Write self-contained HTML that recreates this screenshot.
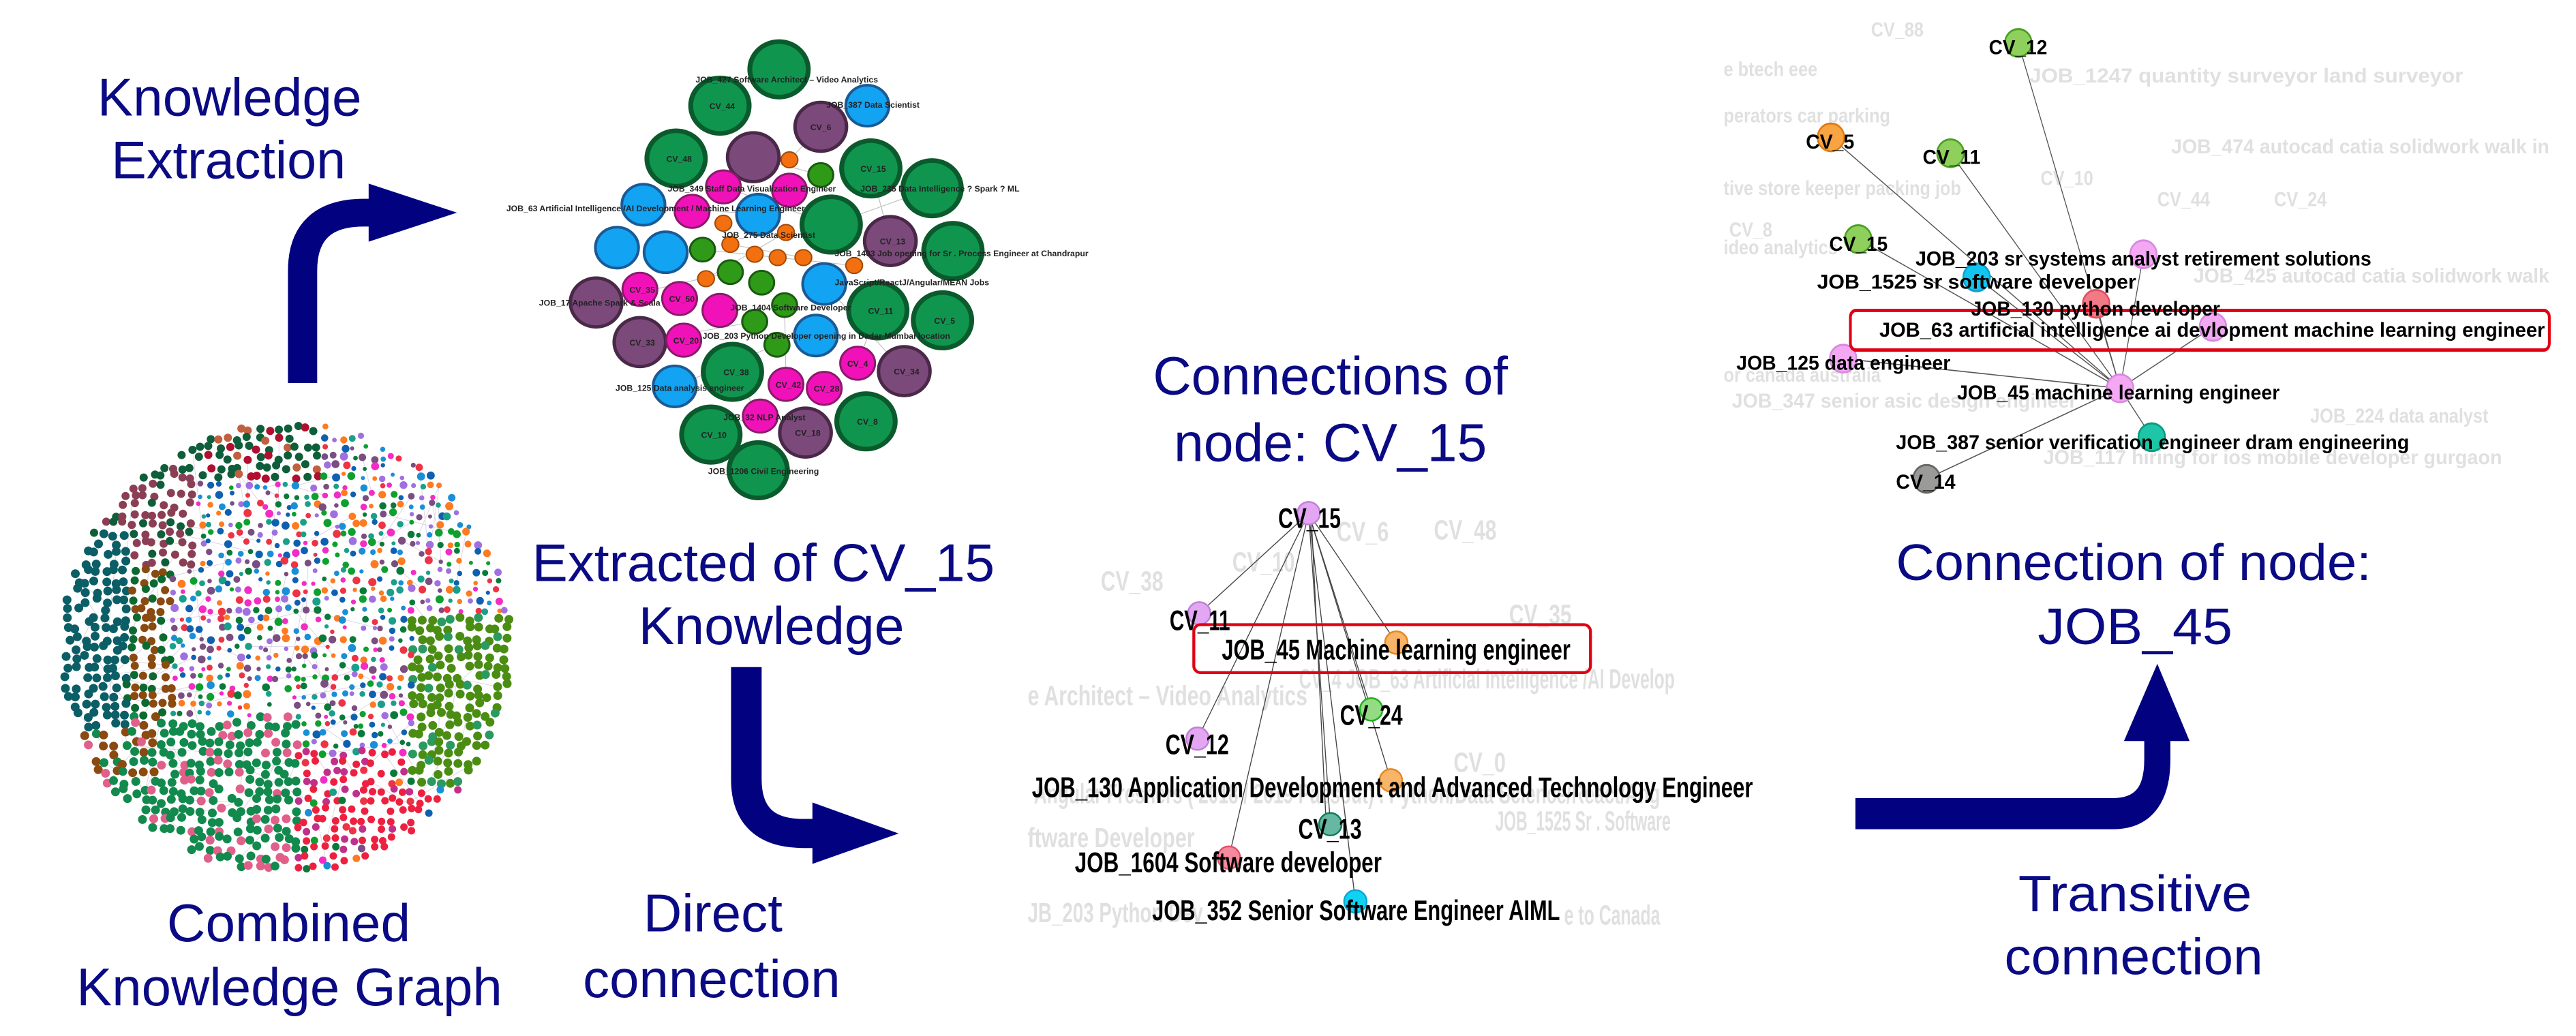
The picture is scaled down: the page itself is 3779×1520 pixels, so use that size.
<!DOCTYPE html>
<html><head><meta charset="utf-8"><style>
html,body{margin:0;padding:0;background:#fff;}
svg{display:block;}
.t{font-family:"Liberation Sans",Arial,sans-serif;fill:#0a0a84;}
.b{font-family:"Liberation Sans",Arial,sans-serif;font-weight:bold;fill:#000;}
.f{font-family:"Liberation Sans",Arial,sans-serif;font-weight:bold;fill:#c8c8c8;opacity:.55;}
.s{font-family:"Liberation Sans",Arial,sans-serif;font-weight:bold;fill:#222;font-size:12px;}
</style></head><body>
<svg id="root" width="3779" height="1520" viewBox="0 0 3779 1520" xmlns="http://www.w3.org/2000/svg">
<rect width="3779" height="1520" fill="#fff"/>

<!-- combined graph (original coords) -->
<g id="blob"></g>

<!-- LEFT group in zoom1 coords -->
<g transform="scale(1.0204,0.969)">
  <text class="t" x="140" y="175" font-size="80" textLength="380" lengthAdjust="spacingAndGlyphs">Knowledge</text>
  <text class="t" x="160" y="270" font-size="80" textLength="337" lengthAdjust="spacingAndGlyphs">Extraction</text>
  <text class="t" x="765" y="880" font-size="80" textLength="665" lengthAdjust="spacingAndGlyphs">Extracted of CV_15</text>
  <text class="t" x="918" y="975" font-size="80" textLength="382" lengthAdjust="spacingAndGlyphs">Knowledge</text>
  <text class="t" x="240" y="1425" font-size="80" textLength="350" lengthAdjust="spacingAndGlyphs">Combined</text>
  <text class="t" x="110" y="1522" font-size="80" textLength="612" lengthAdjust="spacingAndGlyphs">Knowledge Graph</text>
  <text class="t" x="925" y="1410" font-size="80" textLength="200" lengthAdjust="spacingAndGlyphs">Direct</text>
  <text class="t" x="838" y="1510" font-size="80" textLength="370" lengthAdjust="spacingAndGlyphs">connection</text>

  <!-- arrow 1 -->
  <path d="M435,580 L435,410 Q435,322 523,322 L540,322" fill="none" stroke="#020280" stroke-width="42"/>
  <polygon points="530,278 657,322 530,366" fill="#020280"/>
  <!-- arrow 2 -->
  <path d="M1073,1010 L1073,1180 Q1073,1262 1155,1262 L1175,1262" fill="none" stroke="#020280" stroke-width="44"/>
  <polygon points="1168,1215 1292,1262 1168,1308" fill="#020280"/>

  <!-- cluster edges -->
  <g stroke="#999" stroke-width="1.2" opacity=".6">
    <line x1="1083" y1="238" x2="1180" y2="265"/><line x1="1040" y1="283" x2="1195" y2="340"/>
    <line x1="925" y1="310" x2="1090" y2="325"/><line x1="1180" y1="192" x2="1135" y2="242"/>
    <line x1="1252" y1="255" x2="1280" y2="365"/><line x1="857" y1="458" x2="1050" y2="412"/>
    <line x1="920" y1="518" x2="1085" y2="487"/><line x1="970" y1="585" x2="1117" y2="522"/>
    <line x1="1300" y1="562" x2="1185" y2="430"/><line x1="1233" y1="550" x2="1262" y2="470"/>
    <line x1="1130" y1="582" x2="1128" y2="462"/><line x1="1010" y1="378" x2="1228" y2="402"/>
    <line x1="1050" y1="370" x2="1155" y2="390"/><line x1="1015" y1="422" x2="1130" y2="352"/>
    <line x1="1340" y1="285" x2="1195" y2="340"/><line x1="1093" y1="630" x2="1053" y2="563"/>
  </g>
  <!-- big green -->
  <g fill="#10954f" stroke="#0a5a2c" stroke-width="7">
    <circle cx="1120" cy="105" r="42"/><circle cx="1035" cy="160" r="42"/><circle cx="972" cy="240" r="42"/>
    <circle cx="1252" cy="255" r="42"/><circle cx="1340" cy="285" r="42"/><circle cx="1195" cy="340" r="42"/>
    <circle cx="1370" cy="380" r="42"/><circle cx="1262" cy="470" r="42"/><circle cx="1355" cy="485" r="42"/>
    <circle cx="1053" cy="563" r="42"/><circle cx="1245" cy="638" r="42"/><circle cx="1022" cy="658" r="42"/>
    <circle cx="1090" cy="712" r="42"/>
  </g>
  <g fill="#7b4a7b" stroke="#4a2848" stroke-width="5">
    <circle cx="1180" cy="192" r="37"/><circle cx="1083" cy="238" r="37"/><circle cx="1280" cy="365" r="37"/>
    <circle cx="857" cy="458" r="37"/><circle cx="920" cy="518" r="37"/><circle cx="1300" cy="562" r="37"/>
    <circle cx="1158" cy="655" r="37"/>
  </g>
  <g fill="#12a3f2" stroke="#1a5a96" stroke-width="4">
    <circle cx="1247" cy="160" r="31"/><circle cx="925" cy="310" r="31"/><circle cx="1090" cy="325" r="31"/>
    <circle cx="887" cy="375" r="31"/><circle cx="957" cy="382" r="31"/><circle cx="1185" cy="430" r="31"/>
    <circle cx="1173" cy="508" r="31"/><circle cx="970" cy="585" r="31"/>
  </g>
  <g fill="#f012b8" stroke="#8a1a6a" stroke-width="3">
    <circle cx="1040" cy="283" r="25"/><circle cx="995" cy="320" r="25"/><circle cx="1135" cy="288" r="25"/>
    <circle cx="920" cy="438" r="25"/><circle cx="977" cy="452" r="25"/><circle cx="1035" cy="470" r="25"/>
    <circle cx="983" cy="515" r="25"/><circle cx="1233" cy="550" r="25"/><circle cx="1130" cy="582" r="25"/>
    <circle cx="1185" cy="588" r="25"/><circle cx="1093" cy="630" r="25"/>
  </g>
  <g fill="#2e9a18" stroke="#1a5a10" stroke-width="3">
    <circle cx="1180" cy="265" r="18"/><circle cx="1010" cy="378" r="18"/><circle cx="1050" cy="412" r="18"/>
    <circle cx="1095" cy="428" r="18"/><circle cx="1128" cy="462" r="18"/><circle cx="1085" cy="487" r="18"/>
    <circle cx="1117" cy="522" r="18"/>
  </g>
  <g fill="#f27010" stroke="#a04a08" stroke-width="2">
    <circle cx="1135" cy="242" r="12"/><circle cx="1040" cy="338" r="12"/><circle cx="1130" cy="352" r="12"/>
    <circle cx="1050" cy="370" r="12"/><circle cx="1085" cy="385" r="12"/><circle cx="1118" cy="390" r="12"/>
    <circle cx="1155" cy="390" r="12"/><circle cx="1228" cy="402" r="12"/><circle cx="1015" cy="422" r="12"/>
  </g>
  <g class="s">
    <text x="1000" y="125">JOB_427 Software Architect – Video Analytics</text>
    <text x="1188" y="163">JOB_387 Data Scientist</text>
    <text x="728" y="320">JOB_63 Artificial Intelligence /AI Development / Machine Learning Engineer</text>
    <text x="1237" y="290">JOB_235 Data Intelligence ? Spark ? ML</text>
    <text x="1200" y="388">JOB_1403 Job opening for Sr . Process Engineer at Chandrapur</text>
    <text x="1200" y="432">JavaScript/ReactJ/Angular/MEAN Jobs</text>
    <text x="775" y="463">JOB_17 Apache Spark &amp; Scala</text>
    <text x="885" y="592">JOB_125 Data analysis engineer</text>
    <text x="1040" y="636">JOB_32 NLP Analyst</text>
    <text x="1018" y="718">JOB_1206 Civil Engineering</text>
    <text x="1010" y="513">JOB_203 Python Developer opening in Dadar Mumbai location</text>
    <text x="960" y="290">JOB_349 Staff Data Visualization Engineer</text>
    <text x="1050" y="470">JOB_1404 Software Developer</text>
    <text x="1038" y="360">JOB_275 Data Scientist</text>
    <text x="1020" y="165">CV_44</text><text x="958" y="245">CV_48</text><text x="1165" y="197">CV_6</text>
    <text x="1237" y="260">CV_15</text><text x="1265" y="370">CV_13</text><text x="1248" y="475">CV_11</text>
    <text x="1343" y="490">CV_5</text><text x="1040" y="568">CV_38</text><text x="1232" y="643">CV_8</text>
    <text x="1008" y="663">CV_10</text><text x="1143" y="660">CV_18</text><text x="905" y="523">CV_33</text>
    <text x="1285" y="567">CV_34</text><text x="905" y="443">CV_35</text><text x="962" y="457">CV_50</text>
    <text x="968" y="520">CV_20</text><text x="1218" y="555">CV_4</text><text x="1115" y="587">CV_42</text>
    <text x="1170" y="593">CV_28</text>
  </g>
</g>

<!-- MIDDLE group in zoom4 coords -->
<g transform="translate(1480,560) scale(0.6125)">
  <text class="t" x="345" y="30" font-size="128" textLength="850" lengthAdjust="spacingAndGlyphs">Connections of</text>
  <text class="t" x="395" y="190" font-size="128" textLength="750" lengthAdjust="spacingAndGlyphs">node: CV_15</text>
  <g class="f" font-size="66">
    <text x="785" y="382" textLength="125" lengthAdjust="spacingAndGlyphs">CV_6</text>
    <text x="1018" y="378" textLength="150" lengthAdjust="spacingAndGlyphs">CV_48</text>
    <text x="220" y="500" textLength="150" lengthAdjust="spacingAndGlyphs">CV_38</text>
    <text x="535" y="455" textLength="150" lengthAdjust="spacingAndGlyphs">CV_10</text>
    <text x="1198" y="580" textLength="150" lengthAdjust="spacingAndGlyphs">CV_35</text>
    <text x="45" y="775" textLength="670" lengthAdjust="spacingAndGlyphs">e Architect – Video Analytics</text>
    <text x="695" y="735" textLength="900" lengthAdjust="spacingAndGlyphs">CV_4 JOB_63 Artificial Intelligence /AI Develop</text>
    <text x="1065" y="935" textLength="125" lengthAdjust="spacingAndGlyphs">CV_0</text>
    <text x="1165" y="1075" textLength="420" lengthAdjust="spacingAndGlyphs">JOB_1525 Sr . Software</text>
    <text x="45" y="1115" textLength="400" lengthAdjust="spacingAndGlyphs">ftware Developer</text>
    <text x="45" y="1295" textLength="420" lengthAdjust="spacingAndGlyphs">JB_203 Python Dev</text>
    <text x="60" y="1010" textLength="1500" lengthAdjust="spacingAndGlyphs">Angular Freshers ( 2018 / 2019 Passout) . Python/Data Science/React/Ang</text>
    <text x="1330" y="1300" textLength="230" lengthAdjust="spacingAndGlyphs">e to Canada</text>
  </g>
  <g stroke="#444" stroke-width="2.2">
    <line x1="718" y1="315" x2="456" y2="555"/><line x1="718" y1="315" x2="452" y2="855"/>
    <line x1="718" y1="315" x2="527" y2="1140"/><line x1="718" y1="315" x2="770" y2="1060"/>
    <line x1="718" y1="315" x2="830" y2="1245"/><line x1="718" y1="315" x2="868" y2="785"/>
    <line x1="718" y1="315" x2="915" y2="955"/><line x1="718" y1="315" x2="928" y2="625"/>
    <line x1="724" y1="315" x2="760" y2="1060"/>
  </g>
  <g stroke-width="4">
    <circle cx="718" cy="315" r="27" fill="#e3a6f2" stroke="#c27ed8"/>
    <circle cx="456" cy="555" r="27" fill="#e3a6f2" stroke="#c27ed8"/>
    <circle cx="928" cy="625" r="27" fill="#f8b468" stroke="#e8861c"/>
    <circle cx="868" cy="785" r="27" fill="#94dc84" stroke="#1fae1f"/>
    <circle cx="452" cy="855" r="27" fill="#e3a6f2" stroke="#c27ed8"/>
    <circle cx="915" cy="955" r="27" fill="#f8b468" stroke="#e8861c"/>
    <circle cx="770" cy="1060" r="27" fill="#66b8a2" stroke="#0d7a5a"/>
    <circle cx="527" cy="1140" r="27" fill="#f48a9c" stroke="#e0506a"/>
    <circle cx="830" cy="1245" r="27" fill="#12d2f4" stroke="#08a8d0"/>
  </g>
  <rect x="443" y="582" width="950" height="115" rx="16" fill="none" stroke="#e00012" stroke-width="7"/>
  <g class="b" font-size="68">
    <text x="645" y="350" textLength="150" lengthAdjust="spacingAndGlyphs">CV_15</text>
    <text x="385" y="595" textLength="145" lengthAdjust="spacingAndGlyphs">CV_11</text>
    <text x="510" y="665" textLength="835" lengthAdjust="spacingAndGlyphs">JOB_45 Machine learning engineer</text>
    <text x="793" y="822" textLength="150" lengthAdjust="spacingAndGlyphs">CV_24</text>
    <text x="375" y="892" textLength="152" lengthAdjust="spacingAndGlyphs">CV_12</text>
    <text x="55" y="995" textLength="1727" lengthAdjust="spacingAndGlyphs">JOB_130 Application Development and Advanced Technology Engineer</text>
    <text x="693" y="1095" textLength="152" lengthAdjust="spacingAndGlyphs">CV_13</text>
    <text x="158" y="1175" textLength="735" lengthAdjust="spacingAndGlyphs">JOB_1604 Software  developer</text>
    <text x="343" y="1290" textLength="977" lengthAdjust="spacingAndGlyphs">JOB_352 Senior Software Engineer AIML</text>
  </g>
</g>

<!-- RIGHT group in zoom3 coords -->
<g transform="translate(2500,0) scale(0.8157,0.969)">
  <g class="f" font-size="31">
    <text x="300" y="55">CV_88</text>
    <text x="35" y="115">e btech eee</text>
    <text x="35" y="185">perators  car parking</text>
    <text x="35" y="295">tive store keeper packing job</text>
    <text x="45" y="358">CV_8</text>
    <text x="35" y="385">ideo analytics</text>
    <text x="585" y="125" textLength="780" lengthAdjust="spacingAndGlyphs">JOB_1247 quantity surveyor  land surveyor</text>
    <text x="840" y="232" textLength="680" lengthAdjust="spacingAndGlyphs">JOB_474 autocad catia  solidwork walk in</text>
    <text x="605" y="280">CV_10</text>
    <text x="815" y="312">CV_44</text>
    <text x="1025" y="312">CV_24</text>
    <text x="880" y="428" textLength="640" lengthAdjust="spacingAndGlyphs">JOB_425 autocad catia  solidwork walk</text>
    <text x="35" y="578">or canada    australia</text>
    <text x="50" y="617" textLength="620" lengthAdjust="spacingAndGlyphs">JOB_347 senior asic design engineer</text>
    <text x="1090" y="640">JOB_224 data analyst</text>
    <text x="610" y="703" textLength="825" lengthAdjust="spacingAndGlyphs">JOB_117 hiring for ios mobile developer  gurgaon</text>
  </g>
  <g stroke="#555" stroke-width="1.6">
    <line x1="748" y1="588" x2="565" y2="65"/><line x1="748" y1="588" x2="228" y2="208"/>
    <line x1="748" y1="588" x2="443" y2="232"/><line x1="748" y1="588" x2="277" y2="362"/>
    <line x1="748" y1="588" x2="790" y2="385"/><line x1="748" y1="588" x2="490" y2="420"/>
    <line x1="748" y1="588" x2="705" y2="460"/><line x1="748" y1="588" x2="915" y2="495"/>
    <line x1="748" y1="588" x2="250" y2="543"/><line x1="748" y1="588" x2="805" y2="662"/>
    <line x1="748" y1="588" x2="400" y2="725"/>
  </g>
  <g stroke-width="3">
    <ellipse cx="565" cy="65" rx="24" ry="21" fill="#8fd05c" stroke="#48a020"/>
    <ellipse cx="228" cy="208" rx="24" ry="21" fill="#f8a442" stroke="#e07a10"/>
    <ellipse cx="443" cy="232" rx="24" ry="21" fill="#8fd05c" stroke="#48a020"/>
    <ellipse cx="277" cy="362" rx="24" ry="21" fill="#8fd05c" stroke="#48a020"/>
    <ellipse cx="790" cy="385" rx="24" ry="21" fill="#f4a8f4" stroke="#d888e0"/>
    <ellipse cx="490" cy="420" rx="24" ry="21" fill="#12c4f0" stroke="#0aa0d0"/>
    <ellipse cx="705" cy="460" rx="24" ry="21" fill="#f27a86" stroke="#e05060"/>
    <ellipse cx="915" cy="495" rx="24" ry="21" fill="#f4a8f4" stroke="#d888e0"/>
    <ellipse cx="250" cy="543" rx="24" ry="21" fill="#f4a8f4" stroke="#d888e0"/>
    <ellipse cx="748" cy="588" rx="24" ry="21" fill="#f4a8f4" stroke="#d888e0"/>
    <ellipse cx="805" cy="662" rx="24" ry="21" fill="#1cc6a6" stroke="#0a9a80"/>
    <ellipse cx="400" cy="725" rx="24" ry="21" fill="#9a9a98" stroke="#666"/>
  </g>
  <rect x="263" y="470" width="1257" height="60" rx="10" fill="none" stroke="#e00012" stroke-width="5"/>
  <g class="b" font-size="31">
    <text x="512" y="82" textLength="105" lengthAdjust="spacingAndGlyphs">CV_12</text>
    <text x="183" y="225" textLength="87" lengthAdjust="spacingAndGlyphs">CV_5</text>
    <text x="393" y="248" textLength="104" lengthAdjust="spacingAndGlyphs">CV_11</text>
    <text x="225" y="380" textLength="105" lengthAdjust="spacingAndGlyphs">CV_15</text>
    <text x="380" y="402" textLength="820" lengthAdjust="spacingAndGlyphs">JOB_203 sr  systems analyst retirement solutions</text>
    <text x="203" y="437" textLength="574" lengthAdjust="spacingAndGlyphs">JOB_1525 sr    software  developer</text>
    <text x="480" y="478" textLength="448" lengthAdjust="spacingAndGlyphs">JOB_130 python developer</text>
    <text x="315" y="510" textLength="1197" lengthAdjust="spacingAndGlyphs">JOB_63 artificial intelligence  ai devlopment   machine learning engineer</text>
    <text x="58" y="560" textLength="385" lengthAdjust="spacingAndGlyphs">JOB_125 data engineer</text>
    <text x="455" y="605" textLength="580" lengthAdjust="spacingAndGlyphs">JOB_45 machine learning engineer</text>
    <text x="345" y="680" textLength="923" lengthAdjust="spacingAndGlyphs">JOB_387 senior verification engineer  dram engineering</text>
    <text x="345" y="740" textLength="107" lengthAdjust="spacingAndGlyphs">CV_14</text>
  </g>
  <text class="t" x="345" y="878" font-size="78" textLength="855" lengthAdjust="spacingAndGlyphs">Connection of node:</text>
  <text class="t" x="600" y="975" font-size="78" textLength="350" lengthAdjust="spacingAndGlyphs">JOB_45</text>
  <text class="t" x="565" y="1380" font-size="78" textLength="420" lengthAdjust="spacingAndGlyphs">Transitive</text>
  <text class="t" x="540" y="1475" font-size="78" textLength="465" lengthAdjust="spacingAndGlyphs">connection</text>
  <path d="M272,1232 L735,1232 Q815,1232 815,1150 L815,1110" fill="none" stroke="#020280" stroke-width="47"/>
  <polygon points="755,1122 873,1122 815,1005" fill="#020280"/>
</g>
</svg>
<script>
(function(){
  var ns="http://www.w3.org/2000/svg",g=document.getElementById("blob");
  var s=12345;function r(){s=(s*16807)%2147483647;return s/2147483647;}
  var cx=420,cy=950,R=335,pts=[];
  for(var y=cy-R;y<=cy+R;y+=14){for(var x=cx-R;x<=cx+R;x+=14){
    var px=x+(r()-.5)*8,py=y+(r()-.5)*8,dx=(px-cx)/R,dy=(py-cy)/R;
    if(dx*dx+dy*dy>0.97)continue; if(r()<0.12)continue;
    pts.push([px,py,dx,dy]);}}
  var pal=['#1a8fd6','#0ea02e','#f22cc4','#a070e0','#1aa08a','#ee3344','#7a4e80','#1060b0','#ff7a20','#0a7a3a'];
  var eg=document.createElementNS(ns,"g");eg.setAttribute("stroke","#b4a4c8");eg.setAttribute("stroke-width","1");eg.setAttribute("opacity","0.45");g.appendChild(eg);
  for(var i=0;i<900;i++){var a=pts[Math.floor(r()*pts.length)],b=pts[Math.floor(r()*pts.length)];
    if(Math.abs(a[0]-b[0])+Math.abs(a[1]-b[1])>160)continue;
    var l=document.createElementNS(ns,"line");l.setAttribute("x1",a[0]);l.setAttribute("y1",a[1]);l.setAttribute("x2",b[0]);l.setAttribute("y2",b[1]);eg.appendChild(l);}
  pts.forEach(function(p){
    var dx=p[2],dy=p[3],c,rad;
    if(dx<-0.7&&dy>-0.5&&dy<0.35){c='#0b5e66';rad=6.5;}
    else if(dx<-0.4&&dy<-0.35&&dy>-0.8&&dx>-0.85){c=r()<.7?'#8b3f55':'#0e5e3a';rad=6;}
    else if(dy<-0.72&&dx<0.15){c=r()<.6?'#0e5e3a':(r()<.5?'#b01030':'#c06040');rad=6;}
    else if(dy>0.3&&dx<0.05){c=r()<.8?'#128a4e':'#e0608a';rad=6.5;if(dx<-0.55&&dy<0.55&&r()<.4)c='#8a4a10';}
    else if(dx>0.55&&dy>-0.15&&dy<0.62){c=r()<.8?'#4b8d12':'#2a9a60';rad=6.5;}
    else if(dx>0.0&&dy>0.45){var q=r();c=q<.55?'#ee2040':(q<.75?'#c0308a':pal[Math.floor(r()*pal.length)]);rad=5.5;}
    else if(dx<-0.5&&dy>-0.35&&dy<0.3){c=r()<.5?'#0b6a30':'#8a4a10';rad=6;}
    else {c=pal[Math.floor(r()*pal.length)];rad=3+r()*3;}
    var e=document.createElementNS(ns,"circle");e.setAttribute("cx",p[0].toFixed(1));e.setAttribute("cy",p[1].toFixed(1));e.setAttribute("r",rad.toFixed(1));e.setAttribute("fill",c);g.appendChild(e);
  });
})();
</script>
</body></html>
